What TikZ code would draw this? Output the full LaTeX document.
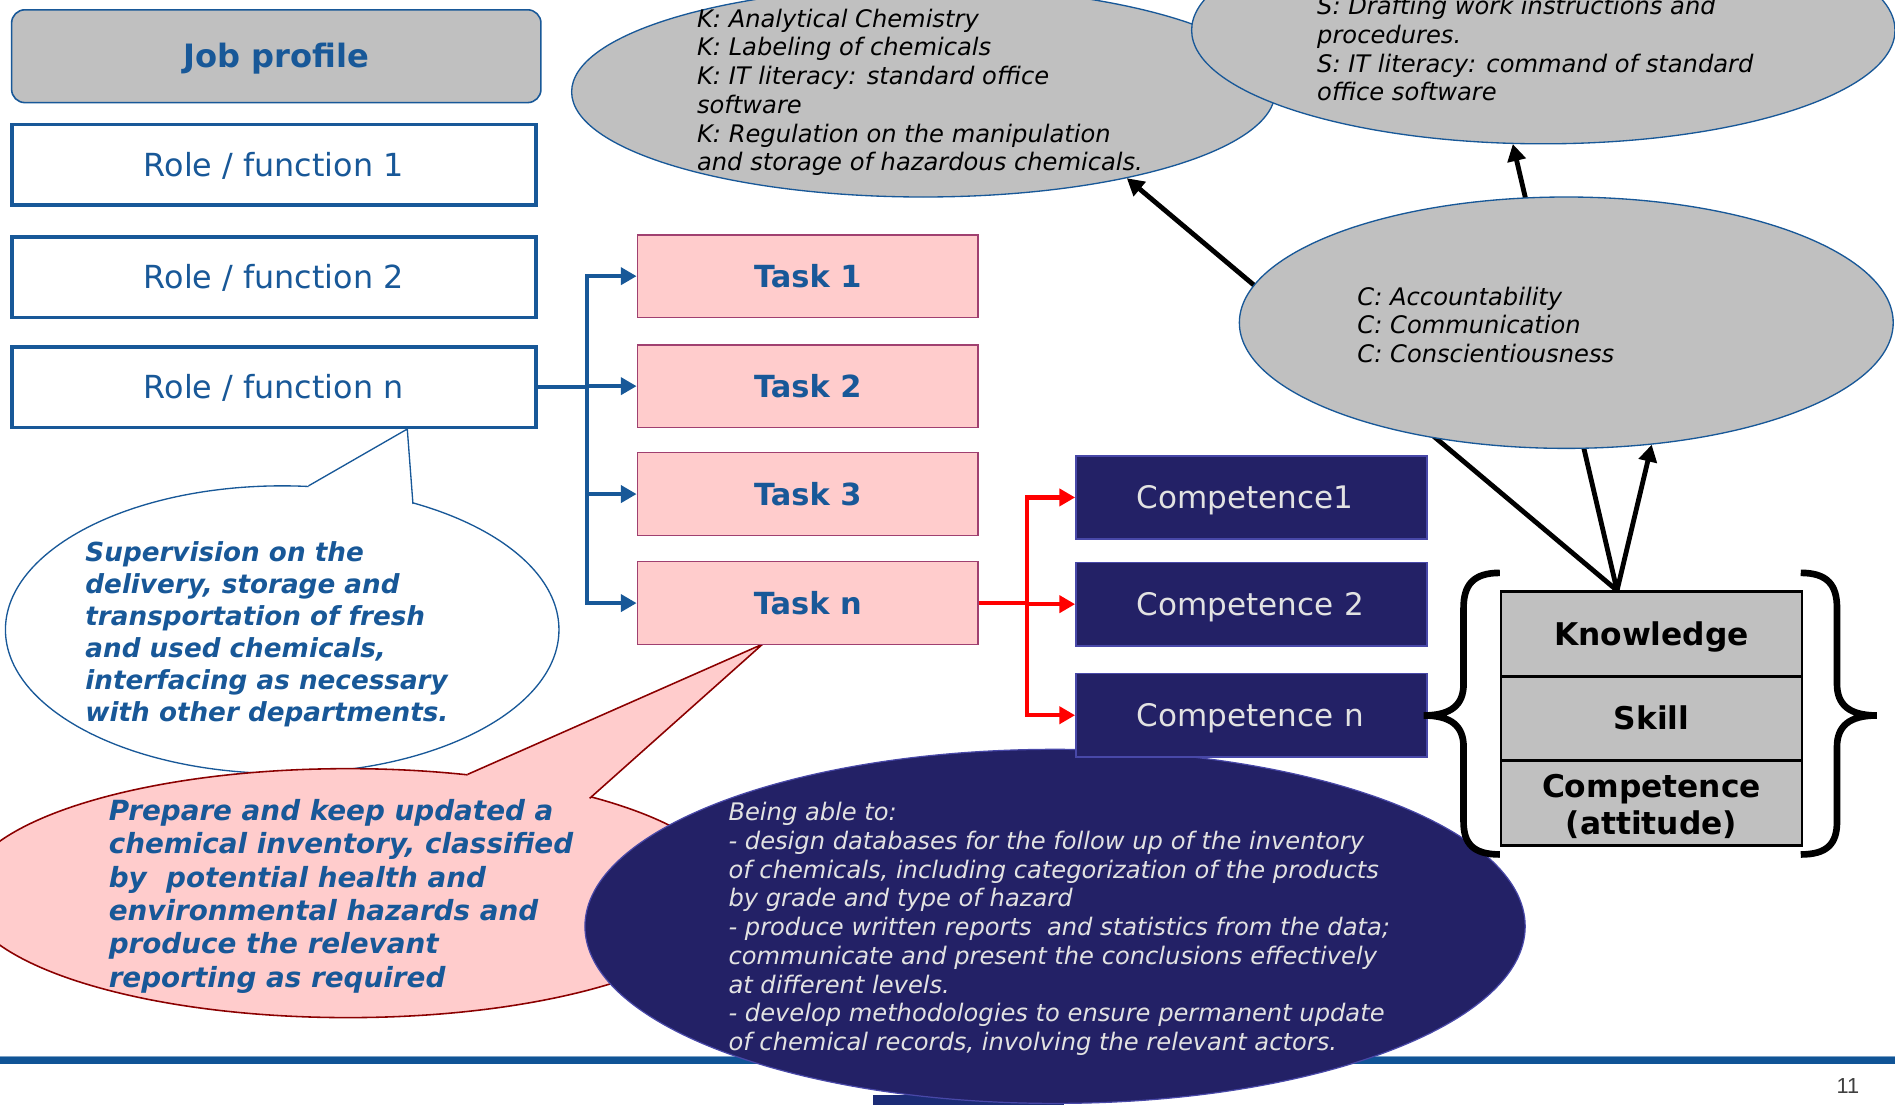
\documentclass[tikz,border=0pt]{standalone}
\usepackage{fontspec}
\setmainfont{DejaVu Sans}
\newfontfamily\pagenumfont{Liberation Sans}
\usetikzlibrary{shapes.geometric,arrows.meta,calc}

\definecolor{jobblue}{RGB}{24,88,152}
\definecolor{boxgray}{RGB}{192,192,192}
\definecolor{taskpink}{RGB}{255,204,204}
\definecolor{taskedge}{RGB}{160,64,112}
\definecolor{calloutedge}{RGB}{139,0,0}
\definecolor{navy}{RGB}{35,33,102}
\definecolor{navyedge}{RGB}{72,72,168}
\definecolor{lighttext}{RGB}{226,226,226}
\definecolor{footblue}{RGB}{16,84,150}
\definecolor{footnavy}{RGB}{28,44,118}

\begin{document}
\begin{tikzpicture}[x=1pt,y=-1pt,
  jobbox/.style={draw=jobblue, line width=1.3pt, fill=boxgray, rounded corners=11pt,
    minimum width=438pt, minimum height=76.8pt, inner sep=0pt, text=jobblue,
    text height=19.4pt, text depth=0pt,
    font=\bfseries\fontsize{26.6}{30}\selectfont},
  rolebox/.style={draw=jobblue, line width=3pt, fill=white, minimum width=433.5pt,
    minimum height=66.5pt, inner sep=0pt, text=jobblue, text height=19.2pt, text depth=0pt,
    font=\fontsize{26.3}{30}\selectfont},
  taskbox/.style={draw=taskedge, line width=1.3pt, fill=taskpink, minimum width=282pt,
    minimum height=68.5pt, inner sep=0pt, text=jobblue, text height=18.4pt, text depth=0pt,
    font=\bfseries\fontsize{25.2}{30}\selectfont},
  compbox/.style={draw=navyedge, line width=1.3pt, fill=navy, text width=189.7pt,
    inner xsep=50.5pt, inner ysep=0pt, minimum height=69pt, align=left, text=lighttext,
    text height=18.7pt, text depth=0pt, font=\fontsize{25.7}{30}\selectfont},
  kscbox/.style={draw=black, line width=2.2pt, fill=boxgray, minimum width=249pt,
    minimum height=69.7pt, inner sep=0pt, align=center,
    font=\bfseries\fontsize{25.9}{30.3}\selectfont},
  kscline/.style={text height=18.9pt, text depth=0pt},
  greyell/.style={ellipse, draw=jobblue, line width=1.1pt, fill=boxgray, inner sep=0pt},
  elltext/.style={anchor=west, inner sep=0pt, align=left, font=\itshape\fontsize{20}{23.8}\selectfont},
  kskarrow/.style={line width=4pt, -{Triangle[length=14pt,width=15pt]}},
  bluelink/.style={draw=jobblue, line width=3.5pt},
  redlink/.style={draw=red, line width=3.5pt},
  tip/.style={-{Triangle[length=13pt,width=14pt]}}
]
\useasboundingbox (0,0) rectangle (1568,914);
\fill[white] (0,0) rectangle (1568,914);
\clip (0,0) rectangle (1568,914);

% footer rule and tab
\fill[footblue] (0,874) rectangle (1568,880);
\draw[footblue!55, line width=0.8pt] (0,874.4) -- (1568,874.4);
\fill[footnavy] (722,906) rectangle (880,914);

% callout for the role
\fill[white] (233.5,521) ellipse [x radius=229pt, y radius=119pt];
\draw[jobblue, line width=1.1pt] (233.5,521) ellipse [x radius=229pt, y radius=119pt];
\fill[white] (255.3,402) -- (337,355) -- (341.7,417) -- (341.7,424) -- (255.3,409) -- cycle;
\draw[jobblue, line width=1.1pt] (255.3,402) -- (337,355) -- (341.7,417);
\node[anchor=west, inner sep=0pt, align=left, text=jobblue,
  font=\bfseries\itshape\fontsize{21.7}{26.5}\selectfont] (roletxt) at (70.5,525)
  {Supervision on the\\delivery, storage and\\transportation of fresh\\and used chemicals,\\interfacing as necessary\\with other departments.};

% callout for the task
\fill[taskpink] (288,739) ellipse [x radius=317pt, y radius=103pt];
\draw[calloutedge, line width=1.3pt] (288,739) ellipse [x radius=317pt, y radius=103pt];
\fill[taskpink] (387,640.7) -- (631,533) -- (487.9,660.6) -- (487.9,667) -- (387,647) -- cycle;
\draw[calloutedge, line width=1.3pt] (387,640.7) -- (631,533) -- (487.9,660.6);
\node[anchor=west, inner sep=0pt, align=left, text=jobblue,
  font=\bfseries\itshape\fontsize{23}{27.6}\selectfont] (tasktxt) at (89.8,741.5)
  {Prepare and keep updated a\\chemical inventory, classified\\by\ \ potential health and\\environmental hazards and\\produce the relevant\\reporting as required};

% competence description
\node[ellipse, fill=navy, draw=navyedge, line width=1pt, minimum width=778pt,
  minimum height=293pt, inner sep=0pt] (nav) at (873,766.5) {};
\node[elltext, text=lighttext] (navtxt) at (602.6,768.7)
  {Being able to:\\- design databases for the follow up of the inventory\\of chemicals, including categorization of the products\\by grade and type of hazard\\- produce written reports\ \ and statistics from the data;\\communicate and present the conclusions effectively\\at different levels.\\- develop methodologies to ensure permanent update\\of chemical records, involving the relevant actors.};

% job profile and roles
\node[jobbox] (job) at (228.6,46.5) {Job profile};
\node[rolebox] (role1) at (226.5,136.3) {Role / function 1};
\node[rolebox] (role2) at (226.5,229.3) {Role / function 2};
\node[rolebox] (rolen) at (226.5,320.5) {Role / function n};

% tasks
\node[taskbox] (task1) at (668.4,228.5) {Task 1};
\node[taskbox] (task2) at (668.4,319.5) {Task 2};
\node[taskbox] (task3) at (668.4,408.8) {Task 3};
\node[taskbox] (taskn) at (668.4,499) {Task n};

% competences
\node[compbox] (comp1) at (1035.6,411.6) {\mbox{Competence1}};
\node[compbox] (comp2) at (1035.6,499.9) {\mbox{Competence 2}};
\node[compbox] (compn) at (1035.6,591.8) {\mbox{Competence n}};

% role -> tasks
\coordinate (bj) at ($(rolen.east)+(40.7,0)$);
\draw[bluelink] (rolen.east) -- (bj);
\draw[bluelink, tip] (bj) |- (task1.west);
\draw[bluelink, tip] (bj) |- (task2.west);
\draw[bluelink, tip] (bj) |- (task3.west);
\draw[bluelink, tip] (bj) |- (taskn.west);

% task -> competences
\coordinate (rj) at ($(taskn.east)+(39.5,0)$);
\draw[redlink] (taskn.east) -- (rj);
\draw[redlink, tip] (rj) |- (comp1.west);
\draw[redlink, tip] (rj) |- (comp2.west);
\draw[redlink, tip] (rj) |- (compn.west);

% knowledge and skill ellipses
\node[greyell, minimum width=582pt, minimum height=174pt] (kell) at (764,76) {};
\node[elltext] (ktxt) at (576.6,76.4)
  {K: Analytical Chemistry\\K: Labeling of chemicals\\K: IT literacy: standard office\\software\\K: Regulation on the manipulation\\and storage of hazardous chemicals.};
\node[greyell, minimum width=582pt, minimum height=188pt] (sell) at (1277,25) {};
\node[elltext] (stxt) at (1089.7,40.3)
  {S: Drafting work instructions and\\procedures.\\S: IT literacy: command of standard\\office software};

% links from the knowledge/skill/competence stack
\node[kscbox, kscline] (know) at (1366.5,524.5) {Knowledge};
\coordinate (kt) at ($(know.north)+(-28.5,0)$);
\draw[kskarrow] (kt) -- (kell.-23);
\draw[kskarrow] (kt) -- (sell.-105);

\node[greyell, minimum width=541pt, minimum height=208pt] (cell) at (1296,267) {};
\node[elltext] (ctxt) at (1123,268.8)
  {C: Accountability\\C: Communication\\C: Conscientiousness};
\draw[kskarrow] (kt) -- (cell.-55);

% the stack itself
\node[kscbox, kscline] (know2) at (1366.5,524.5) {Knowledge};
\node[kscbox, kscline] (skill) at (1366.5,594.5) {Skill};
\node[kscbox] (att) at (1366.5,664.5)
  {\raisebox{-11pt}[0pt][0pt]{\begin{tabular}{@{}c@{}}Competence\\(attitude)\end{tabular}}};

% braces around the stack
\draw[line width=5.5pt] (1241,474) .. controls (1219,474) and (1211,484) .. (1211,503)
  -- (1211,566) .. controls (1211,583) and (1201,592) .. (1178,592)
  .. controls (1201,592) and (1211,601) .. (1211,618)
  -- (1211,680) .. controls (1211,698) and (1219,707) .. (1241,707);
\begin{scope}[shift={(2731,0)}, xscale=-1]
\draw[line width=5.5pt] (1241,474) .. controls (1219,474) and (1211,484) .. (1211,503)
  -- (1211,566) .. controls (1211,583) and (1201,592) .. (1178,592)
  .. controls (1201,592) and (1211,601) .. (1211,618)
  -- (1211,680) .. controls (1211,698) and (1219,707) .. (1241,707);
\end{scope}

% page number
\node[inner sep=0pt, text=black!75, font=\pagenumfont\fontsize{18}{20}\selectfont] (pnum) at (1529,899) {11};
\end{tikzpicture}
\end{document}
